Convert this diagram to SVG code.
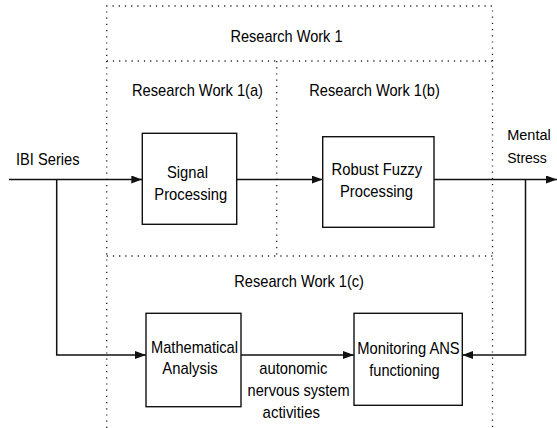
<svg xmlns="http://www.w3.org/2000/svg" width="557" height="428" viewBox="0 0 557 428">
<style>
text{font-family:"Liberation Sans",Arial,sans-serif;font-size:17px;fill:#000}
.small{font-size:15.5px}
.box{fill:#fff;stroke:#111;stroke-width:1.4}
.dot{fill:none;stroke:#222;stroke-width:1.3;stroke-dasharray:1.2 5}
.wire{fill:none;stroke:#111;stroke-width:1.5}
</style>
<defs>
<marker id="arr" markerUnits="userSpaceOnUse" markerWidth="11" markerHeight="8" refX="11" refY="4" orient="auto">
<path d="M0,0 L11,4 L0,8 z" fill="#111"/>
</marker>
</defs>
<g id="regions">
<path class="dot" d="M106.7,428 V6 H492.5 V428"/>
<path class="dot" d="M106.7,61 H492.5"/>
<path class="dot" d="M106.7,256 H492.5"/>
<path class="dot" d="M276.7,61 V256"/>
<text x="230.5" y="41.5" textLength="112" lengthAdjust="spacingAndGlyphs">Research Work 1</text>
<text x="132" y="96" textLength="131" lengthAdjust="spacingAndGlyphs">Research Work 1(a)</text>
<text x="309.3" y="96" textLength="130.5" lengthAdjust="spacingAndGlyphs">Research Work 1(b)</text>
<text x="234.3" y="286.7" textLength="129.7" lengthAdjust="spacingAndGlyphs">Research Work 1(c)</text>
</g>
<g id="connectors">
<path class="wire" d="M9,179.5 H142.3" marker-end="url(#arr)"/>
<path class="wire" d="M236.7,179.5 H322.7" marker-end="url(#arr)"/>
<path class="wire" d="M434,179.5 H557" marker-end="url(#arr)"/>
<path class="wire" d="M56.7,179.5 V355 H146" marker-end="url(#arr)"/>
<path class="wire" d="M241,355 H354" marker-end="url(#arr)"/>
<path class="wire" d="M525.5,179.5 V355 H462.3" marker-end="url(#arr)"/>
<text x="259.3" y="374" textLength="68" lengthAdjust="spacingAndGlyphs">autonomic</text>
<text x="247.6" y="395.7" textLength="102" lengthAdjust="spacingAndGlyphs">nervous system</text>
<text x="262.6" y="418.3" textLength="57.4" lengthAdjust="spacingAndGlyphs">activities</text>
</g>
<g id="ibi">
<text x="16" y="165" textLength="63.5" lengthAdjust="spacingAndGlyphs">IBI Series</text>
</g>
<g id="stress">
<text class="small" x="507.2" y="140" textLength="43.6" lengthAdjust="spacingAndGlyphs">Mental</text>
<text class="small" x="507.2" y="163.3" textLength="39.6" lengthAdjust="spacingAndGlyphs">Stress</text>
</g>
<g id="signal">
<rect class="box" x="142.3" y="133.3" width="94.4" height="91"/>
<text x="167" y="178.3" textLength="41" lengthAdjust="spacingAndGlyphs">Signal</text>
<text x="154.3" y="200" textLength="73" lengthAdjust="spacingAndGlyphs">Processing</text>
</g>
<g id="fuzzy">
<rect class="box" x="322.7" y="136.7" width="111.3" height="90.6"/>
<text x="331.6" y="175" textLength="90.6" lengthAdjust="spacingAndGlyphs">Robust Fuzzy</text>
<text x="340" y="196.7" textLength="73" lengthAdjust="spacingAndGlyphs">Processing</text>
</g>
<g id="math">
<rect class="box" x="146" y="313.3" width="95" height="93.4"/>
<text x="151" y="353" textLength="87" lengthAdjust="spacingAndGlyphs">Mathematical</text>
<text x="162.3" y="374" textLength="55.4" lengthAdjust="spacingAndGlyphs">Analysis</text>
</g>
<g id="monitor">
<rect class="box" x="354" y="313.3" width="108.3" height="92"/>
<text x="357.3" y="353.5" textLength="102.4" lengthAdjust="spacingAndGlyphs">Monitoring ANS</text>
<text x="369.3" y="375.5" textLength="70.4" lengthAdjust="spacingAndGlyphs">functioning</text>
</g>
</svg>
